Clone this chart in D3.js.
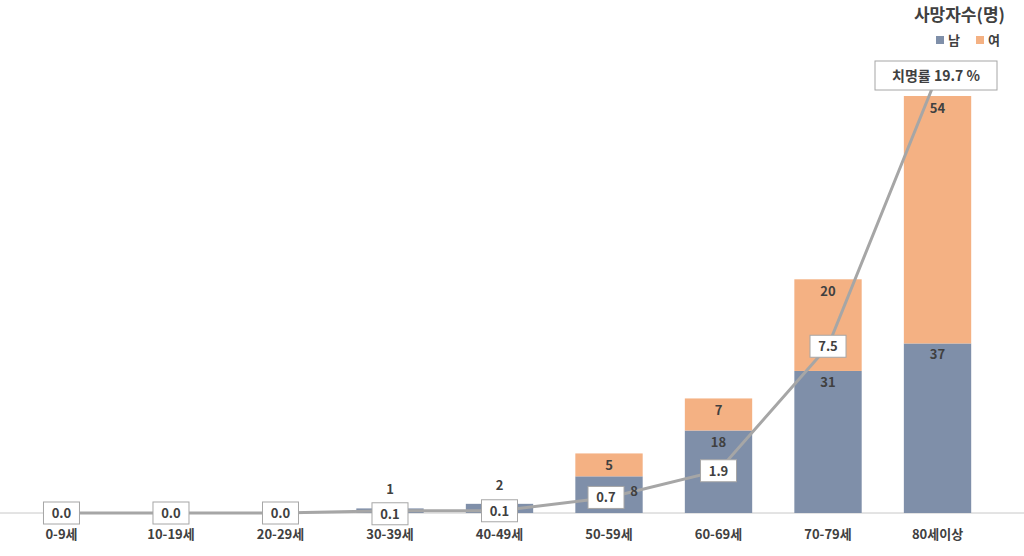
<!DOCTYPE html><html><head><meta charset="utf-8"><script src="https://cdn.jsdelivr.net/npm/d3@7"></script>
<style>body{margin:0;background:#fff}text{font-family:"Noto Sans CJK KR",sans-serif;font-weight:bold;fill:#404040}</style></head><body><svg width="1024" height="556"></svg><script>
const categories=["0-9세","10-19세","20-29세","30-39세","40-49세","50-59세","60-69세","70-79세","80세이상"];
const male=[0,0,0,1,2,8,18,31,37];
const female=[0,0,0,0,0,5,7,20,54];
const rate=[0.0,0.0,0.0,0.1,0.1,0.7,1.9,7.5,19.7];
const svg=d3.select("svg");
const base=513;
const x=d3.scaleBand().domain(categories).range([7,992]).paddingInner(0.385).paddingOuter(0.19);
const y=d3.scaleLinear().domain([0,91]).range([base,96]);
const y2=d3.scaleLinear().domain([0,19.7]).range([base,75]);
const cx=c=>x(c)+x.bandwidth()/2;
svg.append("line").attr("x1",0).attr("x2",1024).attr("y1",base).attr("y2",base).attr("stroke","#c8c8c8");
const g=svg.append("g");
categories.forEach((c,i)=>{
  g.append("rect").attr("x",x(c)).attr("width",x.bandwidth()).attr("y",y(male[i])).attr("height",y(0)-y(male[i])).attr("fill","#7f8fa9");
  g.append("rect").attr("x",x(c)).attr("width",x.bandwidth()).attr("y",y(male[i]+female[i])).attr("height",y(0)-y(female[i])).attr("fill","#f4b183");
  svg.append("text").attr("x",cx(c)).attr("y",539).attr("text-anchor","middle").attr("font-size",13).text(c);
});
const line=d3.line().x((d,i)=>cx(categories[i])).y(d=>y2(d));
svg.append("path").datum(rate).attr("d",line).attr("fill","none").attr("stroke","#a6a6a6").attr("stroke-width",3);
categories.forEach((c,i)=>{
  if(male[i]>=5){
    const big=male[i]>=10;
    svg.append("text").attr("x",cx(c)+(big?0:25)).attr("y",big?y(male[i])+16:y(male[i])+20).attr("text-anchor","middle").attr("font-size",13).text(male[i]);
  } else if(male[i]>0){
    svg.append("text").attr("x",cx(c)).attr("y",y(male[i])-14).attr("text-anchor","middle").attr("font-size",13).text(male[i]);
  }
  if(female[i]>0) svg.append("text").attr("x",cx(c)).attr("y",y(male[i]+female[i])+17).attr("text-anchor","middle").attr("font-size",13).text(female[i]);
  if(i<8){
    const ly=y2(rate[i])+(i===3?3:0);
    const lx=cx(c)-(i===5?3:0);
    svg.append("rect").attr("x",lx-18).attr("y",ly-11).attr("width",36).attr("height",22).attr("fill","#fff").attr("stroke","#a6a6a6");
    svg.append("text").attr("x",lx).attr("y",ly+5).attr("text-anchor","middle").attr("font-size",13).text(rate[i].toFixed(1));
  }
});
svg.append("rect").attr("x",875).attr("y",61).attr("width",122).attr("height",29).attr("fill","#fff").attr("stroke","#a6a6a6");
svg.append("text").attr("x",936).attr("y",81).attr("text-anchor","middle").attr("font-size",14).text("치명률 "+rate[8]+" %");
svg.append("text").attr("x",1005).attr("y",21).attr("text-anchor","end").attr("font-size",17).attr("fill","#595959").text("사망자수(명)");
svg.append("rect").attr("x",936).attr("y",36).attr("width",8).attr("height",8).attr("fill","#7f8fa9");
svg.append("text").attr("x",948).attr("y",45).attr("font-size",13).text("남");
svg.append("rect").attr("x",976).attr("y",36).attr("width",8).attr("height",8).attr("fill","#f4b183");
svg.append("text").attr("x",988).attr("y",45).attr("font-size",13).text("여");
</script></body></html>
